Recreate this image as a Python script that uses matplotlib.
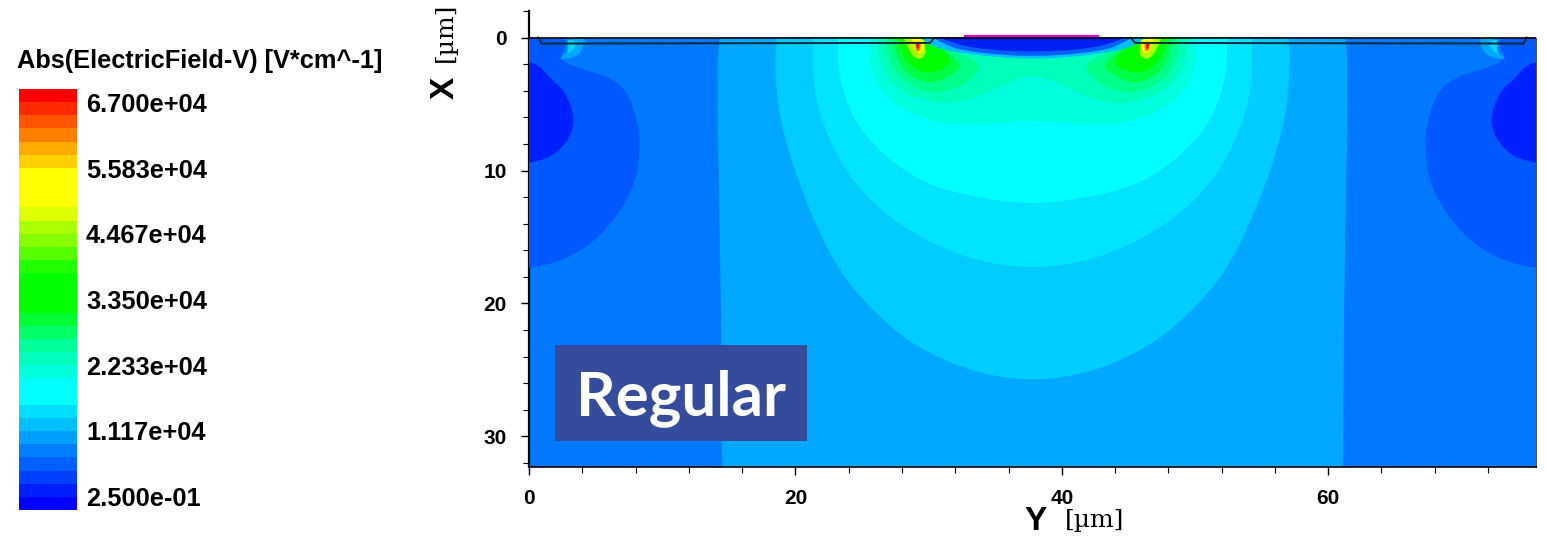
import matplotlib
matplotlib.use("Agg")
import matplotlib.pyplot as plt
from matplotlib.colors import ListedColormap
from matplotlib.patches import PathPatch, Rectangle
from matplotlib.path import Path
from matplotlib.ticker import MultipleLocator
import numpy as np

W, H = 1547, 537
Y_MAX = 75.6
X_MAX = 32.3

legend_title = "Abs(ElectricField-V) [V*cm^-1]"
legend_labels = ["6.700e+04", "5.583e+04", "4.467e+04", "3.350e+04", "2.233e+04", "1.117e+04", "2.500e-01"]
legend_colors = ["#ff0000", "#ff2a00", "#ff5500", "#ff7f00", "#ffaa00", "#ffd000", "#ffff00", "#ffff00", "#ffff00",
                 "#ddff00", "#aaff00", "#88ff00", "#55ff00", "#22ff00", "#00ff00", "#00ff00", "#00ff00",
                 "#00ff33", "#00ff66", "#00ff99", "#00ffbb", "#00ffdd", "#00ffff", "#00ffff",
                 "#00ddff", "#00c0ff", "#00a0ff", "#0080ff", "#0060ff", "#0040ff", "#0020ff", "#0000ff"]

# contour outlines in um, (y, x), left half, top of the device down to the centre line
zone_a = [(14.3, 0), (14.15, 2), (14.2, 8), (14.4, 20), (14.5, 32.3)]
zone_b = [(18.6, 0), (18.5, 1), (18.5, 2.7), (18.7, 5.3), (19.4, 8.3), (20.3, 11), (21.6, 14.3), (23.7, 18.3),
          (27.3, 22), (30.1, 23.8), (33.5, 25.2), (37.8, 25.9)]
zone_c = [(21.3, 0), (21.3, 1), (21.3, 3.2), (21.8, 5.7), (22.8, 8.3), (24.3, 10.8), (26.4, 13), (28.8, 14.7),
          (31.4, 16), (34.1, 16.9), (37.8, 17.4)]
zone_d = [(23.2, 0), (23.2, 1), (23.2, 2.3), (23.7, 4.5), (24.6, 6.5), (26.1, 8.3), (28.1, 10), (30.6, 11.3),
          (33.6, 12), (37.8, 12.6)]
zone_e = [(25.5, 0), (25.5, 0.7), (25.6, 2.3), (26.4, 4), (27.9, 5.3), (29.9, 6.2), (32.4, 6.6), (35.6, 6.4), (37.8, 6.2)]
zone_f = [(26.1, 0), (26.1, 0.7), (26.4, 2), (27.3, 3.5), (28.8, 4.5), (31.1, 5), (33.1, 4.7), (35.1, 3.8), (36.9, 3), (37.8, 2.9)]
center_zones = [zone_b, zone_c, zone_d, zone_e, zone_f]
center_colors = ["#00ccff", "#00e4ff", "#00ffff", "#00ffdc", "#00ffb8"]

# lobes under the field plate edge, each one closed
lobe_a = [(26.7, 0), (26.9, 1.35), (27.6, 2.85), (29, 3.85), (30.5, 4.2), (32, 3.85), (33.1, 3.2), (34, 2.2), (33.1, 1.5), (31.6, 0.9), (30.1, 0)]
lobe_b = [(27.3, 0), (27.5, 1.35), (28.2, 2.6), (29.4, 3.3), (30.5, 3.4), (31.6, 2.9), (32.6, 2.2), (31.6, 1.2), (30.1, 0)]
lobe_c = [(27.7, 0), (28, 1.35), (28.8, 2.25), (29.7, 2.7), (30.9, 2.5), (31.8, 1.9), (31.2, 1.1), (30.1, 0)]
lobe_d = [(28.1, 0), (28.5, 1), (29.1, 1.7), (29.8, 1.4), (29.7, 0.5), (29.7, 0)]
lobe_e = [(28.7, 0), (28.9, 0.8), (29.3, 1.3), (29.7, 0.8), (29.6, 0)]
lobe_f = [(29, 0.4), (29, 1), (29.3, 1.05), (29.4, 0.9), (29.4, 0.4)]
lobe_g = [(29.05, 0.45), (29.1, 0.9), (29.3, 0.85), (29.25, 0.45)]
lobes = [lobe_a, lobe_b, lobe_c, lobe_d, lobe_e, lobe_f, lobe_g]
lobe_colors = ["#00ff88", "#00ff44", "#00ff00", "#aaff00", "#ffff00", "#ff8800", "#ff0000"]

# depleted region under the gate
deplete_a = [(29.3, 0), (30, 0.5), (31, 0.9), (32.7, 1.2), (35.4, 1.5), (37.8, 1.6)]
deplete_b = [(30.3, 0), (31.5, 0.7), (33.1, 1.05), (35.4, 1.3), (37.8, 1.4)]
deplete_c = [(30.8, 0), (32, 0.45), (33.5, 0.8), (35.7, 1), (37.8, 1.05)]
deplete_zones = [deplete_a, deplete_b, deplete_c]
deplete_colors = ["#00c0ff", "#0060ff", "#0020f0"]

# blue pockets at the two side walls
pocket_a = [(0, 0), (2.8, 0), (2.8, 0.6), (2.2, 1.6), (3.6, 2.3), (5.9, 2.9), (7.4, 4), (8.2, 6.5), (8.35, 8), (8.1, 10.7),
            (6.8, 13.2), (4.8, 15.5), (2.2, 16.9), (0.2, 17.3), (0, 17.3)]
pocket_b = [(0, 1.9), (0.6, 1.9), (1.7, 3.2), (2.7, 4), (3.5, 6.1), (3, 7.7), (1.7, 9), (0.1, 9.4), (0, 9.4)]
spot_a = [(2.3, 1.6), (3.6, 1.6), (4.2, 0.5), (4.2, 0), (2.9, 0), (2.9, 1)]
spot_b = [(2.9, 1.2), (3.3, 1), (3.6, 0.2), (2.9, 0.15)]
side_shapes = [pocket_a, pocket_b, spot_a, spot_b]
side_colors = ["#0058ff", "#0020ff", "#00a8ff", "#00d8ff"]

oxide_y = [0.7, 0.95, 30.1, 30.4]
oxide_x = [0, 0.45, 0.4, 0.05]
gate_y = [32.7, 42.7]
gate_x = [-0.12, -0.12]


def px(x, y):
    return x / W, 1 - y / H


def mirror(pts):
    return [(Y_MAX - a, b) for a, b in pts]


def closed_half(pts):
    return pts + mirror(pts)[:-1][::-1]


def smooth(ax, pts, color, zorder=2):
    # rounded outline, the listed points act as curve controls
    verts = [pts[0]]
    codes = [Path.MOVETO]
    for i in range(1, len(pts) - 1):
        a, b = pts[i], pts[i + 1]
        if i == len(pts) - 2:
            end = b
        else:
            end = ((a[0] + b[0]) / 2, (a[1] + b[1]) / 2)
        verts += [a, end]
        codes += [Path.CURVE3, Path.CURVE3]
    verts.append(pts[0])
    codes.append(Path.CLOSEPOLY)
    ax.add_patch(PathPatch(Path(verts, codes), facecolor=color, edgecolor='none', lw=0, zorder=zorder))


fig = plt.figure(figsize=(W / 100, H / 100), dpi=100)
ax = fig.add_axes([529 / W, 1 - 467 / H, (1536 - 529) / W, (467 - 11) / H])
ax.set_xlim(0, Y_MAX)
ax.set_ylim(X_MAX, -2)

ax.add_patch(Rectangle((0, 0), Y_MAX, X_MAX, color="#0078ff", lw=0, zorder=1))
za = zone_a + mirror(zone_a)[::-1]
ax.fill([p[0] for p in za], [p[1] for p in za], color="#00a8ff", lw=0, zorder=2)

for pts, c in zip(center_zones, center_colors):
    smooth(ax, closed_half(pts), c)
for pts, c in zip(side_shapes, side_colors):
    smooth(ax, pts, c, 3)
    smooth(ax, mirror(pts), c, 3)
for pts, c in zip(lobes, lobe_colors):
    smooth(ax, pts, c, 4)
    smooth(ax, mirror(pts), c, 4)
for pts, c in zip(deplete_zones, deplete_colors):
    smooth(ax, closed_half(pts), c, 5)

ax.plot(oxide_y, oxide_x, color="#0a2a3a", lw=1.4, zorder=6)
ax.plot([Y_MAX - v for v in oxide_y], oxide_x, color="#0a2a3a", lw=1.4, zorder=6)
ax.plot([0, Y_MAX], [0, 0], color="black", lw=1.2, zorder=6)
ax.plot(gate_y, gate_x, color="#e000c0", lw=1.6, zorder=7)

ax.spines['top'].set_visible(False)
ax.spines['right'].set_bounds(0, X_MAX)
ax.spines['right'].set_color("#555555")
ax.spines['left'].set_linewidth(1.6)
ax.spines['bottom'].set_linewidth(1.2)

ax.set_xticks([0, 20, 40, 60])
ax.set_yticks([0, 10, 20, 30])
ax.xaxis.set_minor_locator(MultipleLocator(4))
ax.yaxis.set_minor_locator(MultipleLocator(2))
ax.tick_params(axis='both', which='major', length=6, width=1, labelsize=15)
ax.tick_params(axis='both', which='minor', length=4, width=0.8)
ax.tick_params(axis='x', which='major', pad=10)
ax.tick_params(axis='y', which='major', pad=10)
for t in ax.get_xticklabels() + ax.get_yticklabels():
    t.set_fontfamily('Liberation Sans')
    t.set_fontweight('bold')

# axis titles
x, y = px(445, 88)
fig.text(x, y, "X", rotation=90, ha='center', va='center', fontsize=24, fontweight='bold', family='Liberation Sans')
x, y = px(445, 32)
fig.text(x, y, "[\u00b5m]", rotation=90, ha='center', va='center', fontsize=18, family='DejaVu Serif')
x, y = px(1036, 522)
fig.text(x, y, "Y", ha='center', va='center', fontsize=24, fontweight='bold', family='Liberation Sans')
x, y = px(1095, 520)
fig.text(x, y, "[\u00b5m]", ha='center', va='center', fontsize=18, family='DejaVu Serif')

# legend bar
cax = fig.add_axes([19 / W, 1 - 510 / H, (77 - 19) / W, (510 - 89) / H])
vals = np.arange(len(legend_colors))[:, None]
cax.imshow(vals, cmap=ListedColormap(legend_colors), aspect='auto', interpolation='nearest')
cax.axis('off')

x, y = px(17, 61)
fig.text(x, y, legend_title, ha='left', va='center', fontsize=18.3, fontweight='bold', family='Liberation Sans')
label_y = [105, 171, 236, 302, 368, 433, 499]
for lab, ly in zip(legend_labels, label_y):
    x, y = px(86, ly)
    fig.text(x, y, lab, ha='left', va='center', fontsize=18.3, fontweight='bold', family='Liberation Sans')

# Regular tag
x0, y0 = px(555, 441)
x1, y1 = px(807, 345)
fig.add_artist(Rectangle((x0, y0), x1 - x0, y1 - y0, transform=fig.transFigure, color="#354c9c", lw=0, zorder=10))
x, y = px(681, 398)
fig.text(x, y, "Regular", ha='center', va='center', color='white', fontsize=44.5, fontweight='bold', family='Lato', zorder=11)

fig.savefig("out.png", dpi=100)
